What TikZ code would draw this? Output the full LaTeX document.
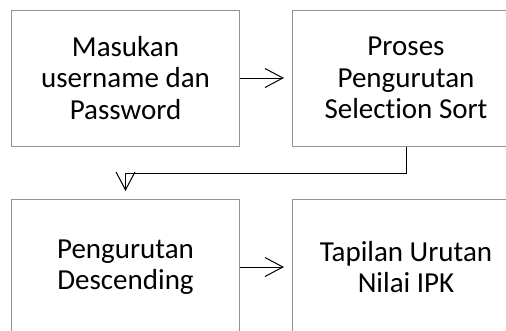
\documentclass[tikz,border=0pt]{standalone}
\usepackage{fontspec}
\setmainfont{Carlito}[Ligatures=NoCommon]
\usetikzlibrary{arrows.meta}
\begin{document}
\begin{tikzpicture}[x=1pt,y=-1pt,
  stepbox/.style={draw=black!42, line width=1pt, rectangle,
    minimum width=228pt, minimum height=136pt, inner sep=0pt,
    align=center, font=\fontsize{29}{31.5}\selectfont},
  flow/.style={draw=black, line width=1pt,
    -{Straight Barb[length=18pt,width=19pt,line width=1pt]},
    shorten >=7.5pt}]
  \clip (0,0) rectangle (506,330);
  \fill[white] (0,0) rectangle (506,330);

  % process steps
  \node[stepbox] (masuk) at (125.5,78) {Masukan\\username dan\\Password};
  \node[stepbox] (proses) at (406,78) {Proses\\Pengurutan\\Selection Sort};
  \node[stepbox] (desc) at (125.5,267) {Pengurutan\\Descending};
  \node[stepbox] (tampil) at (406,267) {Tapilan Urutan\\Nilai IPK};

  % connectors
  \coordinate (turn) at (0,173);
  \draw[flow] (masuk.east) -- (proses.west);
  \draw[flow] (proses.south) -- (proses.south |- turn) -| (desc.north);
  \draw[flow] (desc.east |- tampil.west) -- (tampil.west);
\end{tikzpicture}
\end{document}
